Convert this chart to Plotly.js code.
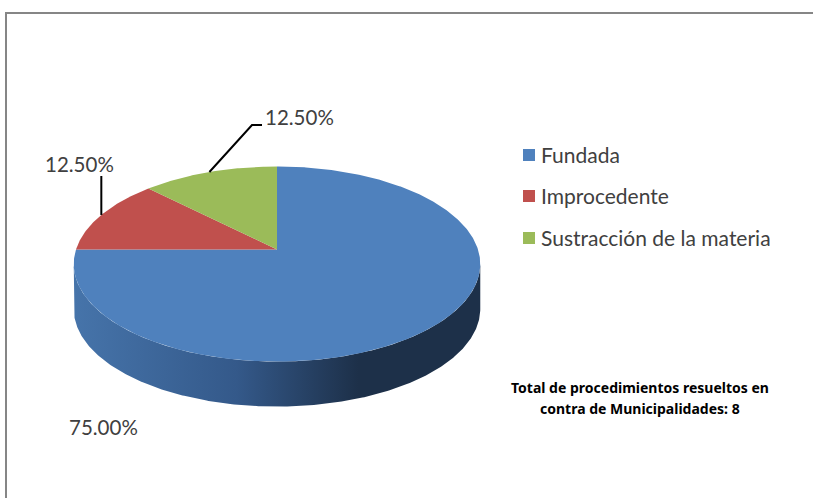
<!DOCTYPE html>
<html>
<head>
<meta charset="utf-8">
<script src="https://cdn.plot.ly/plotly-3.0.1.min.js"></script>
<style>html,body{margin:0;padding:0;background:#fff;overflow:hidden}</style>
</head>
<body>
<div id="chart" style="width:813px;height:498px"></div>
<script>
// Data
const categories = ["Fundada", "Improcedente", "Sustracción de la materia"];
const values = [75.0, 12.5, 12.5];
const sliceColors = ["#4f81bd", "#c0504d", "#9bbb59"];
const noteLines = ["Total de procedimientos resueltos en", "contra de Municipalidades: 8"];

// Projection of the tilted disc on the 813x498 pixel-like axes
const cx = 277, cy = 249.5, R = 201, S = 95.4, K = 0.149, depth = 45;
const project = deg => {
  const t = deg * Math.PI / 180, d = 1 + K * Math.cos(t);
  return [cx + R * Math.sin(t) / d, cy - S * Math.cos(t) / d];
};
const total = values.reduce((a, b) => a + b, 0);
const arc = (from, to) => {
  const pts = [], n = Math.max(2, Math.ceil(Math.abs(to - from) / 0.5));
  for (let i = 0; i <= n; i++) pts.push(project(from + (to - from) * i / n));
  return pts;
};

const traces = [];

// Side wall (front arc, shifted down by the depth)
const wallStart = Math.acos(-K) * 180 / Math.PI;
const front = arc(wallStart, 360 - wallStart);
const wallX = front.map(p => p[0]).concat(front.map(p => p[0]).reverse());
const wallY = front.map(p => p[1]).concat(front.map(p => p[1] + depth).reverse());
traces.push({
  type: "scatter", mode: "lines", x: wallX, y: wallY, fill: "toself",
  line: {width: 0}, hoverinfo: "skip", showlegend: false,
  fillcolor: "#33567f",
  fillgradient: {type: "horizontal", colorscale: [[0, "#4674aa"], [0.4, "#34598a"], [0.7, "#1d3049"], [1, "#1d3049"]]}
});

// Top slices
let cum = 0;
const mids = [];
values.forEach((v, i) => {
  const a0 = cum / total * 360, a1 = (cum + v) / total * 360;
  cum += v;
  mids.push(project((a0 + a1) / 2));
  const pts = [[cx, cy]].concat(arc(a0, a1), [[cx, cy]]);
  traces.push({
    type: "scatter", mode: "lines", name: categories[i],
    x: pts.map(p => p[0]), y: pts.map(p => p[1]),
    fill: "toself", fillcolor: sliceColors[i], line: {width: 0},
    hoverinfo: "name", showlegend: false
  });
});

// Leader lines from slice edges to their labels
const leaders = [
  {i: 1, via: [[mids[1][0], 176]]},
  {i: 2, via: [[252, 125], [262, 125]]}
];
leaders.forEach(l => {
  const pts = [mids[l.i]].concat(l.via);
  traces.push({
    type: "scatter", mode: "lines", x: pts.map(p => p[0]), y: pts.map(p => p[1]),
    line: {color: "#000", width: 2}, hoverinfo: "skip", showlegend: false
  });
});

// Legend
const legendX = 529, legendTextX = 539, legendY = [155, 196, 238];
categories.forEach((c, i) => {
  traces.push({
    type: "scatter", mode: "markers", x: [legendX], y: [legendY[i]],
    marker: {symbol: "square", size: 12, color: sliceColors[i]},
    hoverinfo: "skip", showlegend: false
  });
});

const labelFont = {family: "Lato, 'Noto Sans', sans-serif", size: 20.5, color: "#404040"};
const legendFont = {family: "Lato, 'Noto Sans', sans-serif", size: 21, color: "#404040"};
const text = (x, y, t, anchor, font) => ({
  xref: "x", yref: "y", x, y, text: t, showarrow: false, xanchor: anchor, yanchor: "middle", font
});
const fmt = v => v.toFixed(2) + "%";
const noteFont = {family: "'Noto Sans', sans-serif", size: 14, color: "#000"};

const annotations = [
  text(103, 427, fmt(values[0]), "center", labelFont),
  text(79.5, 164, fmt(values[1]), "center", labelFont),
  text(299.5, 117, fmt(values[2]), "center", labelFont),
  text(640, 387, "<b>" + noteLines[0] + "</b>", "center", noteFont),
  text(640, 408, "<b>" + noteLines[1] + "</b>", "center", noteFont)
].concat(categories.map((c, i) => text(legendTextX, legendY[i] - 1, c, "left", legendFont)));

const layout = {
  width: 813, height: 498, margin: {l: 0, r: 0, t: 0, b: 0},
  paper_bgcolor: "#fff", plot_bgcolor: "#fff", showlegend: false,
  xaxis: {range: [0, 813], visible: false, fixedrange: true},
  yaxis: {range: [498, 0], visible: false, fixedrange: true},
  shapes: [{type: "rect", xref: "x", yref: "y", x0: 6, y0: 13, x1: 830, y1: 520, line: {color: "#868686", width: 2}, fillcolor: "rgba(0,0,0,0)", layer: "below"}],
  annotations
};
Plotly.newPlot("chart", traces, layout, {displayModeBar: false, staticPlot: true});
</script>
</body>
</html>
